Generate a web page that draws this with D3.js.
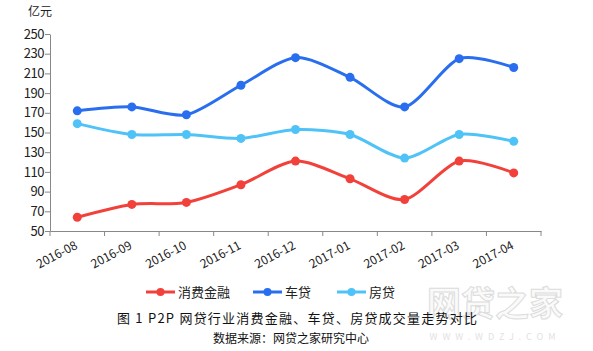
<!DOCTYPE html>
<html lang="zh">
<head>
<meta charset="utf-8">
<title>P2P网贷行业消费金融、车贷、房贷成交量走势对比</title>
<script src="https://d3js.org/d3.v7.min.js"></script>
<style>
  body { margin: 0; background: #fff; }
  text { font-family: "Noto Sans CJK SC", "DejaVu Sans", sans-serif; }
</style>
</head>
<body>
<div id="chart"></div>
<script>
// Data
const months = ["2016-08", "2016-09", "2016-10", "2016-11", "2016-12", "2017-01", "2017-02", "2017-03", "2017-04"];
const consumer = [64, 77, 79, 97, 121, 103, 82, 121, 109];
const car = [172, 176, 168, 198, 226, 206, 176, 225, 216];
const house = [159, 148, 148, 144, 153, 148, 124, 148, 141];
const seriesNames = ["消费金融", "车贷", "房贷"];
const seriesColors = ["#f2413a", "#2a6ef0", "#4fc3f7"];
const yTicks = [50, 70, 90, 110, 130, 150, 170, 190, 210, 230, 250];

const width = 593, height = 351;
const margin = { top: 34, right: 52, bottom: 120, left: 50 };

const svg = d3.select("#chart").append("svg")
  .attr("width", width)
  .attr("height", height);

const x = d3.scaleBand().domain(months).range([margin.left, 541]);
const y = d3.scaleLinear().domain([50, 250]).range([231, 34]);

// Axes
const yAxis = svg.append("g")
  .attr("transform", `translate(${margin.left},0)`)
  .call(d3.axisLeft(y).tickValues(yTicks).tickSize(5).tickSizeOuter(0));
yAxis.select(".domain").attr("stroke", "#888");
yAxis.selectAll(".tick line").attr("stroke", "#888");
yAxis.selectAll(".tick text")
  .attr("x", -6)
  .attr("fill", "#222")
  .attr("font-size", 13)
  .attr("font-family", "'DejaVu Sans', sans-serif")
  .style("letter-spacing", "-0.5px");

const xAxis = svg.append("g")
  .attr("transform", "translate(0,231)")
  .call(d3.axisBottom(x).tickSize(0).tickSizeOuter(0));
xAxis.select(".domain").attr("stroke", "#888");
xAxis.selectAll(".tick text")
  .attr("fill", "#222")
  .attr("font-size", 12)
  .attr("font-family", "'DejaVu Sans', sans-serif")
  .attr("text-anchor", "end")
  .attr("y", 0)
  .attr("dy", 0)
  .attr("transform", "translate(1,17) rotate(-28)");

// Tick marks at category boundaries
svg.append("g").selectAll("line")
  .data(months.concat(["end"]))
  .join("line")
  .attr("x1", (d, i) => margin.left + i * x.step())
  .attr("x2", (d, i) => margin.left + i * x.step())
  .attr("y1", 231)
  .attr("y2", 236)
  .attr("stroke", "#888");

svg.append("text")
  .attr("x", 28)
  .attr("y", 16)
  .attr("font-size", 12)
  .attr("fill", "#222")
  .text("亿元");

// Lines
const line = d3.line()
  .x((d, i) => x(months[i]) + x.bandwidth() / 2)
  .y(d => y(d))
  .curve(d3.curveCardinal.tension(0.2));

[consumer, car, house].forEach((vals, k) => {
  const g = svg.append("g");
  g.append("path")
    .attr("d", line(vals))
    .attr("fill", "none")
    .attr("stroke", seriesColors[k])
    .attr("stroke-width", 3);
  g.selectAll("circle")
    .data(vals)
    .join("circle")
    .attr("cx", (d, i) => x(months[i]) + x.bandwidth() / 2)
    .attr("cy", d => y(d))
    .attr("r", 4.5)
    .attr("fill", seriesColors[k]);
});

// Watermark
svg.append("text")
  .attr("x", 495)
  .attr("y", 316)
  .attr("text-anchor", "middle")
  .attr("font-size", 34)
  .attr("font-weight", "bold")
  .attr("fill", "#fafafa")
  .attr("stroke", "#dcdcdc")
  .attr("stroke-width", 1)
  .text("网贷之家");
svg.append("text")
  .attr("x", 495)
  .attr("y", 340)
  .attr("text-anchor", "middle")
  .attr("font-size", 9)
  .attr("fill", "#e2e2e2")
  .style("letter-spacing", "5px")
  .text("WWW.WDZJ.COM");

// Legend
const legendX = [146, 253, 337];
const legend = svg.append("g");
seriesNames.forEach((name, k) => {
  const lx = legendX[k];
  legend.append("line")
    .attr("x1", lx).attr("x2", lx + 29)
    .attr("y1", 292).attr("y2", 292)
    .attr("stroke", seriesColors[k])
    .attr("stroke-width", 3);
  legend.append("circle")
    .attr("cx", lx + 14.5).attr("cy", 292).attr("r", 4)
    .attr("fill", seriesColors[k]);
  legend.append("text")
    .attr("x", lx + 32).attr("y", 297)
    .attr("font-size", 13)
    .attr("fill", "#222")
    .text(name);
});

// Caption
svg.append("text")
  .attr("x", 117)
  .attr("y", 323)
  .attr("font-size", 13)
  .attr("fill", "#111")
  .attr("textLength", 360)
  .attr("lengthAdjust", "spacing")
  .text("图 1 P2P 网贷行业消费金融、车贷、房贷成交量走势对比");
svg.append("text")
  .attr("x", 291)
  .attr("y", 343)
  .attr("text-anchor", "middle")
  .attr("font-size", 12)
  .attr("fill", "#111")
  .text("数据来源：网贷之家研究中心");
</script>
</body>
</html>
